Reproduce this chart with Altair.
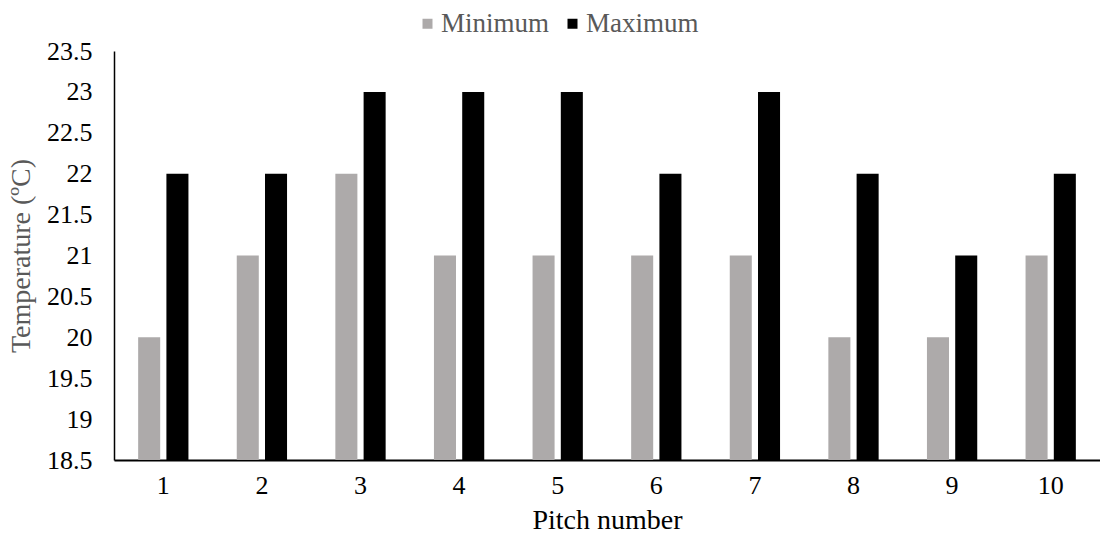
import altair as alt
import pandas as pd

# Pitch temperatures (°C)
pitches = [1, 2, 3, 4, 5, 6, 7, 8, 9, 10]
minimum = [20, 21, 22, 21, 21, 21, 21, 20, 20, 21]
maximum = [22, 22, 23, 23, 23, 22, 23, 22, 21, 22]
series = ["Minimum", "Maximum"]
colors = ["#ADAAAA", "#000000"]
y_ticks = [18.5, 19, 19.5, 20, 20.5, 21, 21.5, 22, 22.5, 23, 23.5]

rows = []
for p, lo, hi in zip(pitches, minimum, maximum):
    rows.append({"pitch": p, "series": "Minimum", "temp": lo})
    rows.append({"pitch": p, "series": "Maximum", "temp": hi})
df = pd.DataFrame(rows)

FONT = "Liberation Serif"

chart = (
    alt.Chart(df)
    .mark_bar(clip=True)
    .encode(
        x=alt.X(
            "pitch:O",
            title="Pitch number",
            scale=alt.Scale(paddingInner=0.49, paddingOuter=0.245),
            axis=alt.Axis(
                labelAngle=0,
                ticks=False,
                domainColor="#000000",
                domainWidth=2,
                labelColor="#000000",
                labelFont=FONT,
                labelFontSize=26,
                labelPadding=12,
                titleFont=FONT,
                titleFontSize=28,
                titleColor="#000000",
                titleFontWeight="normal",
                titlePadding=8,
            ),
        ),
        xOffset=alt.XOffset(
            "series:N", sort=series, scale=alt.Scale(paddingInner=0.22)
        ),
        y=alt.Y(
            "temp:Q",
            title="Temperature (ºC)",
            scale=alt.Scale(domain=[18.5, 23.5], zero=False, nice=False),
            axis=alt.Axis(
                values=y_ticks,
                format=".1~f",
                grid=False,
                ticks=False,
                domainColor="#000000",
                domainWidth=1.5,
                labelColor="#000000",
                labelFont=FONT,
                labelFontSize=26,
                labelPadding=22,
                titleFont=FONT,
                titleFontSize=28,
                titleColor="#595959",
                titleFontWeight="normal",
                titlePadding=11,
            ),
        ),
        color=alt.Color(
            "series:N",
            sort=series,
            scale=alt.Scale(domain=series, range=colors),
            legend=alt.Legend(
                title=None,
                orient="none",
                legendX=300,
                legendY=-41,
                direction="horizontal",
                symbolType="square",
                symbolSize=100,
                symbolStrokeWidth=0,
                labelFont=FONT,
                labelFontSize=27,
                labelColor="#595959",
                labelOffset=0,
                columnPadding=9,
            ),
        ),
    )
    .properties(
        width=986,
        height=409,
        autosize=alt.AutoSizeParams(type="none"),
        padding={"left": 114, "top": 51, "right": 0, "bottom": 78},
    )
    .configure(font=FONT)
    .configure_view(stroke=None)
)

chart.save("out.html", embed_options={"renderer": "svg", "actions": False})
